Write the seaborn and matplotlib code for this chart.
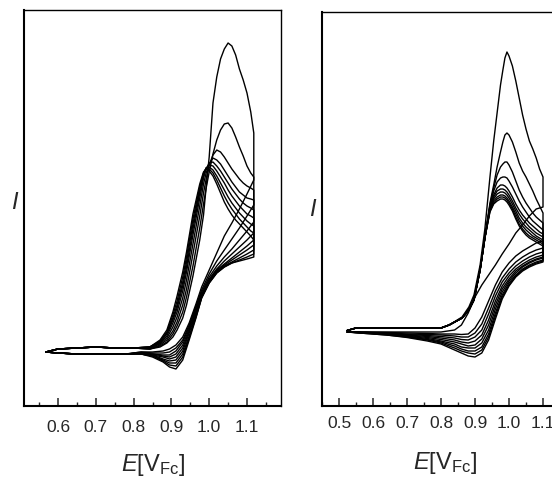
import matplotlib
matplotlib.use("Agg")
import matplotlib.pyplot as plt
import numpy as np
import pandas as pd
import seaborn as sns
from matplotlib.ticker import MultipleLocator, FormatStrFormatter

# ---------------- LEFT PANEL DATA (E in V vs Fc, I in arbitrary units) ----------
L_base_E = [0.568, 0.60, 0.65, 0.70, 0.75, 0.80]
L_base_I = [0.0, 0.3, 0.4, 0.5, 0.4, 0.4]
L_fwd_E = [0.843, 0.87, 0.888, 0.904, 0.915, 0.93, 0.94, 0.957, 0.975, 0.985, 0.992,
           1.00, 1.01, 1.02, 1.03, 1.04, 1.05, 1.06, 1.07, 1.08, 1.09, 1.10, 1.11, 1.118]
L_fwd_I = [
    [0.3, 0.5, 0.9, 1.5, 2.2, 3.4, 4.7, 7.6, 11.2, 13.7, 16.5, 19.5, 24.9, 27.5, 29.3, 30.3, 30.9, 30.6, 29.7, 28.3, 27.2, 25.9, 24.0, 21.9],
    [0.3, 0.6, 1.0, 1.8, 2.6, 4.0, 5.5, 8.6, 12.4, 14.8, 16.4, 18.0, 19.8, 21.2, 22.2, 22.8, 22.9, 22.4, 21.5, 20.5, 19.6, 18.6, 17.9, 17.5],
    [0.3, 0.7, 1.2, 2.1, 3.0, 4.7, 6.3, 9.8, 13.6, 15.9, 17.3, 18.7, 19.7, 20.2, 20.0, 19.5, 18.9, 18.3, 17.8, 17.3, 16.9, 16.6, 16.4, 16.2],
    [0.4, 0.8, 1.4, 2.5, 3.5, 5.4, 7.2, 10.8, 14.6, 16.8, 17.9, 18.8, 19.4, 19.2, 18.8, 18.2, 17.6, 17.0, 16.5, 16.0, 15.7, 15.4, 15.3, 15.2],
    [0.4, 0.9, 1.6, 2.9, 4.0, 6.1, 8.0, 11.7, 15.4, 17.4, 18.3, 18.9, 19.0, 18.6, 18.1, 17.5, 16.9, 16.3, 15.8, 15.3, 14.9, 14.6, 14.4, 14.2],
    [0.5, 1.0, 1.8, 3.2, 4.4, 6.6, 8.5, 12.3, 15.9, 17.7, 18.4, 18.7, 18.6, 18.1, 17.5, 16.9, 16.2, 15.6, 15.1, 14.6, 14.2, 13.8, 13.6, 13.4],
    [0.5, 1.0, 1.9, 3.4, 4.7, 7.0, 9.0, 12.8, 16.2, 17.8, 18.4, 18.5, 18.2, 17.6, 16.9, 16.2, 15.5, 14.9, 14.4, 13.9, 13.5, 13.1, 12.8, 12.6],
    [0.5, 1.1, 2.0, 3.7, 5.1, 7.5, 9.5, 13.3, 16.5, 17.9, 18.4, 18.3, 17.9, 17.2, 16.4, 15.6, 14.9, 14.3, 13.8, 13.3, 12.9, 12.5, 12.1, 11.9],
    [0.5, 1.2, 2.2, 4.0, 5.6, 8.0, 10.0, 13.8, 16.8, 18.0, 18.3, 18.1, 17.6, 16.8, 15.9, 15.0, 14.3, 13.7, 13.2, 12.8, 12.4, 12.0, 11.6, 11.2],
]
L_rev_E = [1.118, 1.10, 1.08, 1.06, 1.04, 1.02, 1.00, 0.98, 0.965, 0.947, 0.93, 0.912,
           0.895, 0.878, 0.85, 0.82]
L_rev_I = [
    [17.2, 15.8, 14.3, 12.9, 11.6, 9.9, 8.2, 6.5, 4.8, 2.9, 1.5, 0.7, 0.3, 0.1, 0.0, 0.0],
    [14.7, 13.6, 12.4, 11.3, 10.2, 9.1, 7.8, 6.2, 4.6, 2.7, 1.2, 0.4, 0.0, -0.1, -0.1, 0.0],
    [13.0, 12.1, 11.2, 10.3, 9.5, 8.6, 7.5, 6.0, 4.4, 2.5, 1.0, 0.1, -0.3, -0.3, -0.2, -0.1],
    [11.9, 11.2, 10.5, 9.8, 9.1, 8.3, 7.3, 5.8, 4.2, 2.3, 0.7, -0.2, -0.5, -0.4, -0.2, -0.1],
    [11.2, 10.6, 10.0, 9.4, 8.8, 8.2, 7.2, 5.7, 4.0, 2.1, 0.4, -0.5, -0.7, -0.5, -0.3, -0.1],
    [10.7, 10.2, 9.7, 9.2, 8.7, 8.1, 7.1, 5.6, 3.8, 1.9, 0.1, -0.8, -0.9, -0.7, -0.3, -0.1],
    [10.2, 9.8, 9.4, 9.0, 8.6, 8.0, 7.0, 5.5, 3.6, 1.6, -0.2, -1.1, -1.1, -0.8, -0.4, -0.2],
    [9.8, 9.5, 9.2, 8.9, 8.5, 7.9, 6.9, 5.4, 3.5, 1.4, -0.5, -1.4, -1.3, -0.9, -0.4, -0.2],
    [9.5, 9.3, 9.1, 8.9, 8.5, 7.9, 6.9, 5.4, 3.4, 1.2, -0.8, -1.7, -1.5, -1.0, -0.5, -0.2],
]
L_tail_E = [0.78, 0.70, 0.65, 0.60, 0.568]
L_tail_I = [-0.2, -0.2, -0.2, -0.1, 0.0]

# ---------------- RIGHT PANEL DATA ----------------
R_base_E = [0.524, 0.55, 0.60, 0.65, 0.70, 0.75]
R_base_I = [0.05, 0.3, 0.3, 0.3, 0.3, 0.3]
R_fwd_E = [0.80, 0.824, 0.862, 0.882, 0.897, 0.915, 0.929, 0.944, 0.955, 0.965, 0.975,
           0.982, 0.988, 0.994, 1.00, 1.01, 1.02, 1.03, 1.04, 1.05, 1.06, 1.07, 1.08, 1.09, 1.10]
R_fwd_I = [
    [0.3, 0.6, 1.4, 2.4, 3.6, 6.6, 10.2, 15.4, 19.0, 21.8, 24.6, 26.1, 27.3, 27.9, 27.5, 26.5, 25.0, 23.3, 21.6, 20.2, 19.0, 18.2, 17.3, 16.2, 15.4],
    [0.3, 0.6, 1.3, 2.2, 3.3, 6.2, 9.4, 12.8, 14.6, 16.4, 17.9, 18.9, 19.6, 19.8, 19.6, 18.9, 17.9, 16.8, 16.0, 15.4, 14.7, 14.0, 13.2, 12.5, 11.8],
    [0.3, 0.6, 1.3, 2.2, 3.2, 6.1, 9.3, 12.6, 14.3, 15.6, 16.4, 16.7, 16.9, 16.9, 16.6, 15.9, 15.0, 14.1, 13.4, 12.8, 12.3, 11.8, 11.4, 11.1, 10.8],
    [0.3, 0.6, 1.3, 2.1, 3.2, 6.1, 9.3, 12.5, 14.0, 14.9, 15.3, 15.4, 15.4, 15.3, 15.0, 14.4, 13.7, 13.0, 12.4, 11.9, 11.4, 11.0, 10.7, 10.4, 10.1],
    [0.3, 0.6, 1.3, 2.1, 3.1, 6.1, 9.3, 12.4, 13.6, 14.3, 14.6, 14.6, 14.5, 14.3, 14.0, 13.4, 12.7, 12.1, 11.6, 11.2, 10.8, 10.5, 10.2, 9.9, 9.7],
    [0.3, 0.6, 1.3, 2.1, 3.1, 6.1, 9.3, 12.3, 13.4, 14.0, 14.2, 14.2, 14.1, 13.9, 13.6, 13.0, 12.3, 11.7, 11.2, 10.8, 10.4, 10.1, 9.8, 9.6, 9.4],
    [0.3, 0.6, 1.3, 2.1, 3.1, 6.1, 9.3, 12.2, 13.2, 13.7, 13.9, 13.9, 13.8, 13.6, 13.3, 12.7, 12.0, 11.3, 10.8, 10.4, 10.1, 9.8, 9.5, 9.3, 9.1],
    [0.3, 0.6, 1.3, 2.1, 3.1, 6.1, 9.3, 12.1, 13.0, 13.4, 13.6, 13.6, 13.5, 13.3, 13.0, 12.4, 11.7, 11.0, 10.5, 10.1, 9.8, 9.5, 9.3, 9.1, 8.9],
    [0.3, 0.6, 1.3, 2.1, 3.1, 6.1, 9.3, 12.0, 12.8, 13.2, 13.4, 13.4, 13.3, 13.1, 12.8, 12.2, 11.4, 10.7, 10.2, 9.8, 9.5, 9.3, 9.1, 8.9, 8.7],
    [0.3, 0.6, 1.3, 2.1, 3.1, 6.1, 9.3, 11.9, 12.7, 13.0, 13.2, 13.2, 13.1, 12.9, 12.6, 12.0, 11.2, 10.5, 10.0, 9.6, 9.3, 9.1, 8.9, 8.7, 8.5],
]
R_rev_E = [1.10, 1.08, 1.06, 1.04, 1.02, 1.00, 0.98, 0.96, 0.94, 0.92, 0.90, 0.88,
           0.86, 0.84, 0.80, 0.76, 0.70, 0.64, 0.58, 0.524]
R_rev_I = [
    [12.4, 12.2, 11.5, 10.6, 9.8, 8.7, 7.7, 6.6, 5.6, 4.6, 3.4, 1.8, 0.6, 0.1, -0.1, -0.1, -0.1, -0.1, -0.1, -0.1],
    [9.0, 8.8, 8.4, 8.0, 7.5, 6.8, 5.9, 4.6, 3.0, 1.4, 0.3, -0.3, -0.35, -0.3, -0.3, -0.25, -0.2, -0.15, -0.1, -0.1],
    [8.3, 8.1, 7.8, 7.4, 6.9, 6.2, 5.3, 4.0, 2.3, 0.7, -0.2, -0.6, -0.6, -0.5, -0.4, -0.35, -0.3, -0.2, -0.15, -0.1],
    [7.9, 7.7, 7.4, 7.0, 6.5, 5.8, 4.9, 3.5, 1.7, 0.1, -0.6, -0.9, -0.85, -0.7, -0.55, -0.45, -0.35, -0.25, -0.15, -0.1],
    [7.6, 7.4, 7.1, 6.7, 6.2, 5.5, 4.5, 3.0, 1.1, -0.4, -1.0, -1.2, -1.1, -0.9, -0.7, -0.55, -0.4, -0.25, -0.15, -0.1],
    [7.4, 7.2, 6.9, 6.5, 6.0, 5.2, 4.2, 2.6, 0.6, -0.8, -1.4, -1.5, -1.3, -1.1, -0.85, -0.65, -0.45, -0.3, -0.2, -0.1],
    [7.3, 7.1, 6.8, 6.4, 5.8, 5.0, 3.9, 2.2, 0.1, -1.2, -1.7, -1.7, -1.6, -1.3, -1.0, -0.75, -0.5, -0.3, -0.2, -0.1],
    [7.1, 6.9, 6.6, 6.2, 5.6, 4.8, 3.6, 1.8, -0.3, -1.6, -2.0, -2.0, -1.8, -1.5, -1.1, -0.85, -0.55, -0.35, -0.2, -0.1],
    [7.0, 6.8, 6.5, 6.1, 5.5, 4.6, 3.4, 1.5, -0.6, -1.9, -2.3, -2.2, -2.0, -1.7, -1.2, -0.9, -0.6, -0.4, -0.25, -0.1],
    [6.9, 6.7, 6.4, 6.0, 5.4, 4.5, 3.2, 1.2, -0.9, -2.2, -2.6, -2.5, -2.2, -1.9, -1.3, -1.0, -0.65, -0.4, -0.25, -0.1],
]
R_tail_E = []
R_tail_I = []

X_LABEL = r"$E$[V$_{\mathrm{Fc}}$]"
Y_LABEL = r"$I$"


def build(base_E, base_I, fwd_E, fwd_I, rev_E, rev_I, tail_E, tail_I):
    frames = []
    for k, (fi, ri) in enumerate(zip(fwd_I, rev_I), start=1):
        E = base_E + fwd_E + rev_E + tail_E
        I = base_I + fi + ri + tail_I
        frames.append(pd.DataFrame({"cycle": k, "order": range(len(E)), "E": E, "I": I}))
    return pd.concat(frames, ignore_index=True)


dfL = build(L_base_E, L_base_I, L_fwd_E, L_fwd_I, L_rev_E, L_rev_I, L_tail_E, L_tail_I)
dfR = build(R_base_E, R_base_I, R_fwd_E, R_fwd_I, R_rev_E, R_rev_I, R_tail_E, R_tail_I)

sns.set_style("white")
plt.rcParams["font.family"] = ["Liberation Sans", "DejaVu Sans"]
plt.rcParams["mathtext.fontset"] = "custom"
plt.rcParams["mathtext.rm"] = "Liberation Sans"
plt.rcParams["mathtext.it"] = "Liberation Sans:italic"

W, H = 552, 479
fig = plt.figure(figsize=(W / 100, H / 100), dpi=100)


def px_axes(x0, y0, x1, y1):
    return fig.add_axes([x0 / W, 1 - y1 / H, (x1 - x0) / W, (y1 - y0) / H])


axL = px_axes(24, 10, 281, 406)
axR = px_axes(322, 12, 577, 406)

for ax, df, xlim, ylim, pad in [
    (axL, dfL, (0.510, 1.190), (-5.4, 34.2), 10.0),
    (axR, dfR, (0.450, 1.200), (-7.5, 31.9), 7.5),
]:
    sns.lineplot(data=df, x="E", y="I", units="cycle", estimator=None, sort=False,
                 color="black", lw=1.0, ax=ax, legend=False)
    ax.set_xlim(*xlim)
    ax.set_ylim(*ylim)
    ax.set_xlabel("")
    ax.set_ylabel("")
    ax.set_yticks([])
    ax.xaxis.set_major_locator(MultipleLocator(0.1))
    ax.xaxis.set_minor_locator(MultipleLocator(0.05))
    ax.xaxis.set_major_formatter(FormatStrFormatter("%.1f"))
    ax.tick_params(axis="x", which="major", direction="in", length=6, width=1.1,
                   labelsize=12.5, pad=pad, bottom=True)
    ax.tick_params(axis="x", which="minor", direction="in", length=3, width=1.0, bottom=True)
    for s in ["left", "bottom"]:
        ax.spines[s].set_linewidth(1.5)
        ax.spines[s].set_color("black")
    ax.spines["top"].set_linewidth(1.0)
    ax.spines["top"].set_color("black")
    ax.spines["right"].set_linewidth(1.0)
    ax.spines["right"].set_color("black")
    ax.set_facecolor("white")

# axis titles
fig.text(153 / W, 1 - 465 / H, X_LABEL, ha="center", va="center", fontsize=17)
fig.text(445 / W, 1 - 463 / H, X_LABEL, ha="center", va="center", fontsize=17)
fig.text(15 / W, 1 - 203 / H, Y_LABEL, ha="center", va="center", fontsize=17)
fig.text(313 / W, 1 - 210 / H, Y_LABEL, ha="center", va="center", fontsize=17)

fig.savefig("out.png", dpi=100, facecolor="white")
